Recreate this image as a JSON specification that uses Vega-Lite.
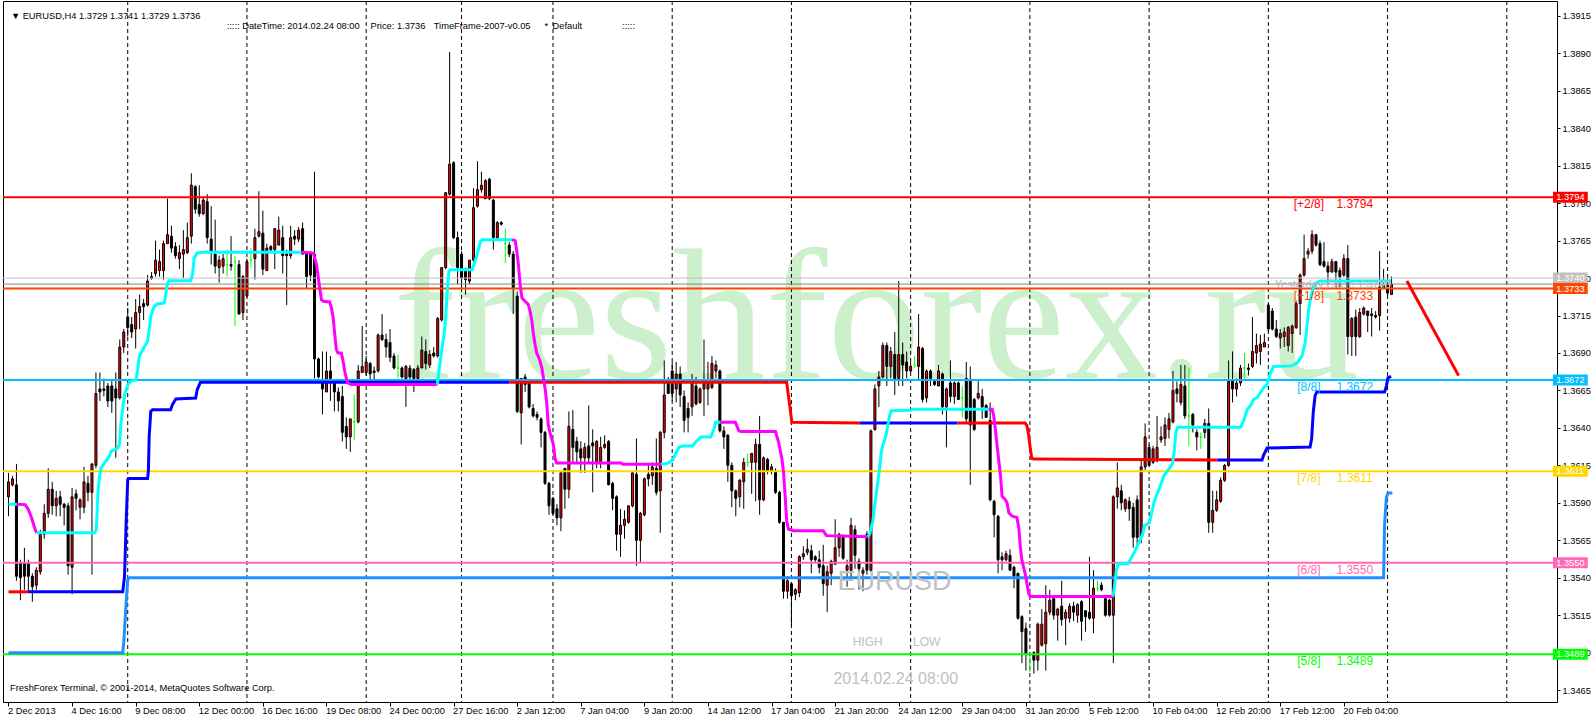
{
"$schema":"https://vega.github.io/schema/vega-lite/v6.json",
"width":1554,"height":701,
"autosize":{"type":"none"},
"padding":{"left":3,"top":1,"right":39,"bottom":18},
"background":"#FFFFFF",
"config":{"view":{"stroke":"#000000","strokeWidth":1},"text":{"font":"Liberation Sans"}},
"resolve":{"axis":{"x":"independent","y":"independent"}},
"datasets":{
"candles":[
{"i":0,"o":1.3594,"h":1.3610,"l":1.3581,"c":1.3604},{"i":1,"o":1.3602,"h":1.3608,"l":1.3601,"c":1.3606},{"i":2,"o":1.3602,"h":1.3616,"l":1.3538,"c":1.3541},{"i":3,"o":1.3550,"h":1.3552,"l":1.3525,"c":1.3540},{"i":4,"o":1.3550,"h":1.3560,"l":1.3532,"c":1.3541},{"i":5,"o":1.3550,"h":1.3552,"l":1.3530,"c":1.3541},{"i":6,"o":1.3541,"h":1.3543,"l":1.3524,"c":1.3534},{"i":7,"o":1.3535,"h":1.3547,"l":1.3532,"c":1.3545},{"i":8,"o":1.3544,"h":1.3572,"l":1.3542,"c":1.3569},{"i":9,"o":1.3569,"h":1.3589,"l":1.3566,"c":1.3583},
{"i":10,"o":1.3583,"h":1.3613,"l":1.3580,"c":1.3599},{"i":11,"o":1.3599,"h":1.3604,"l":1.3582,"c":1.3588},{"i":12,"o":1.3588,"h":1.3598,"l":1.3581,"c":1.3593},{"i":13,"o":1.3594,"h":1.3598,"l":1.3581,"c":1.3589},{"i":14,"o":1.3589,"h":1.3590,"l":1.3575,"c":1.3587},{"i":15,"o":1.3588,"h":1.3590,"l":1.3542,"c":1.3548},{"i":16,"o":1.3547,"h":1.3600,"l":1.3529,"c":1.3594},{"i":17,"o":1.3596,"h":1.3599,"l":1.3585,"c":1.3593},{"i":18,"o":1.3587,"h":1.3593,"l":1.3579,"c":1.3592},{"i":19,"o":1.3587,"h":1.3614,"l":1.3583,"c":1.3604},
{"i":20,"o":1.3603,"h":1.3608,"l":1.3591,"c":1.3597},{"i":21,"o":1.3597,"h":1.3616,"l":1.3542,"c":1.3616},{"i":22,"o":1.3615,"h":1.3677,"l":1.3613,"c":1.3663},{"i":23,"o":1.3666,"h":1.3677,"l":1.3658,"c":1.3664},{"i":24,"o":1.3666,"h":1.3673,"l":1.3661,"c":1.3665},{"i":25,"o":1.3668,"h":1.3670,"l":1.3654,"c":1.3658},{"i":26,"o":1.3668,"h":1.3672,"l":1.3650,"c":1.3658},{"i":27,"o":1.3666,"h":1.3677,"l":1.3620,"c":1.3660},{"i":28,"o":1.3660,"h":1.3699,"l":1.3659,"c":1.3694},{"i":29,"o":1.3694,"h":1.3706,"l":1.3690,"c":1.3704},
{"i":30,"o":1.3714,"h":1.3720,"l":1.3701,"c":1.3707},{"i":31,"o":1.3709,"h":1.3714,"l":1.3700,"c":1.3704},{"i":32,"o":1.3706,"h":1.3726,"l":1.3693,"c":1.3717},{"i":33,"o":1.3717,"h":1.3729,"l":1.3706,"c":1.3721},{"i":34,"o":1.3723,"h":1.3726,"l":1.3712,"c":1.3721},{"i":35,"o":1.3722,"h":1.3742,"l":1.3721,"c":1.3738},{"i":36,"o":1.3740,"h":1.3744,"l":1.3739,"c":1.3741},{"i":37,"o":1.3743,"h":1.3765,"l":1.3741,"c":1.3752},{"i":38,"o":1.3745,"h":1.3759,"l":1.3741,"c":1.3751},{"i":39,"o":1.3745,"h":1.3765,"l":1.3739,"c":1.3763},
{"i":40,"o":1.3763,"h":1.3793,"l":1.3763,"c":1.3769},{"i":41,"o":1.3768,"h":1.3775,"l":1.3757,"c":1.3760},{"i":42,"o":1.3761,"h":1.3764,"l":1.3753,"c":1.3755},{"i":43,"o":1.3753,"h":1.3762,"l":1.3746,"c":1.3757},{"i":44,"o":1.3756,"h":1.3772,"l":1.3740,"c":1.3759},{"i":45,"o":1.3757,"h":1.3777,"l":1.3756,"c":1.3767},{"i":46,"o":1.3768,"h":1.3810,"l":1.3763,"c":1.3802},{"i":47,"o":1.3801,"h":1.3802,"l":1.3783,"c":1.3786},{"i":48,"o":1.3789,"h":1.3802,"l":1.3781,"c":1.3783},{"i":49,"o":1.3783,"h":1.3794,"l":1.3782,"c":1.3792},
{"i":50,"o":1.3791,"h":1.3796,"l":1.3763,"c":1.3767},{"i":51,"o":1.3766,"h":1.3788,"l":1.3749,"c":1.3758},{"i":52,"o":1.3756,"h":1.3779,"l":1.3743,"c":1.3748},{"i":53,"o":1.3747,"h":1.3755,"l":1.3737,"c":1.3752},{"i":54,"o":1.3748,"h":1.3756,"l":1.3743,"c":1.3753},{"i":55,"o":1.3749,"h":1.3759,"l":1.3741,"c":1.3749},{"i":56,"o":1.3749,"h":1.3768,"l":1.3745,"c":1.3748},{"i":57,"o":1.3751,"h":1.3755,"l":1.3708,"c":1.3751},{"i":58,"o":1.3749,"h":1.3752,"l":1.3716,"c":1.3716},{"i":59,"o":1.3717,"h":1.3742,"l":1.3712,"c":1.3741},
{"i":60,"o":1.3728,"h":1.3753,"l":1.3727,"c":1.3751},{"i":61,"o":1.3752,"h":1.3760,"l":1.3747,"c":1.3752},{"i":62,"o":1.3753,"h":1.3773,"l":1.3739,"c":1.3767},{"i":63,"o":1.3768,"h":1.3798,"l":1.3767,"c":1.3771},{"i":64,"o":1.3770,"h":1.3785,"l":1.3742,"c":1.3746},{"i":65,"o":1.3745,"h":1.3763,"l":1.3745,"c":1.3760},{"i":66,"o":1.3761,"h":1.3762,"l":1.3757,"c":1.3759},{"i":67,"o":1.3759,"h":1.3773,"l":1.3746,"c":1.3773},{"i":68,"o":1.3762,"h":1.3781,"l":1.3762,"c":1.3772},{"i":69,"o":1.3767,"h":1.3775,"l":1.3743,"c":1.3755},
{"i":70,"o":1.3756,"h":1.3759,"l":1.3722,"c":1.3755},{"i":71,"o":1.3755,"h":1.3775,"l":1.3753,"c":1.3767},{"i":72,"o":1.3768,"h":1.3772,"l":1.3762,"c":1.3766},{"i":73,"o":1.3766,"h":1.3774,"l":1.3764,"c":1.3772},{"i":74,"o":1.3773,"h":1.3777,"l":1.3756,"c":1.3756},{"i":75,"o":1.3756,"h":1.3758,"l":1.3733,"c":1.3741},{"i":76,"o":1.3757,"h":1.3758,"l":1.3738,"c":1.3742},{"i":77,"o":1.3756,"h":1.3811,"l":1.3673,"c":1.3686},{"i":78,"o":1.3686,"h":1.3687,"l":1.3673,"c":1.3674},{"i":79,"o":1.3672,"h":1.3691,"l":1.3649,"c":1.3666},
{"i":80,"o":1.3664,"h":1.3691,"l":1.3664,"c":1.3678},{"i":81,"o":1.3678,"h":1.3688,"l":1.3658,"c":1.3673},{"i":82,"o":1.3670,"h":1.3671,"l":1.3651,"c":1.3664},{"i":83,"o":1.3664,"h":1.3667,"l":1.3651,"c":1.3658},{"i":84,"o":1.3661,"h":1.3668,"l":1.3631,"c":1.3637},{"i":85,"o":1.3641,"h":1.3647,"l":1.3626,"c":1.3634},{"i":86,"o":1.3634,"h":1.3646,"l":1.3624,"c":1.3646},{"i":87,"o":1.3644,"h":1.3662,"l":1.3632,"c":1.3644},{"i":88,"o":1.3644,"h":1.3682,"l":1.3643,"c":1.3678},{"i":89,"o":1.3677,"h":1.3708,"l":1.3677,"c":1.3681},
{"i":90,"o":1.3677,"h":1.3688,"l":1.3675,"c":1.3684},{"i":91,"o":1.3683,"h":1.3684,"l":1.3671,"c":1.3676},{"i":92,"o":1.3678,"h":1.3681,"l":1.3672,"c":1.3677},{"i":93,"o":1.3678,"h":1.3703,"l":1.3677,"c":1.3702},{"i":94,"o":1.3702,"h":1.3716,"l":1.3698,"c":1.3699},{"i":95,"o":1.3699,"h":1.3703,"l":1.3687,"c":1.3694},{"i":96,"o":1.3697,"h":1.3706,"l":1.3684,"c":1.3687},{"i":97,"o":1.3688,"h":1.3690,"l":1.3679,"c":1.3680},{"i":98,"o":1.3680,"h":1.3689,"l":1.3673,"c":1.3680},{"i":99,"o":1.3680,"h":1.3681,"l":1.3673,"c":1.3674},
{"i":100,"o":1.3673,"h":1.3682,"l":1.3654,"c":1.3681},{"i":101,"o":1.3680,"h":1.3682,"l":1.3672,"c":1.3674},{"i":102,"o":1.3679,"h":1.3680,"l":1.3664,"c":1.3673},{"i":103,"o":1.3673,"h":1.3682,"l":1.3672,"c":1.3680},{"i":104,"o":1.3680,"h":1.3701,"l":1.3680,"c":1.3692},{"i":105,"o":1.3691,"h":1.3699,"l":1.3679,"c":1.3683},{"i":106,"o":1.3682,"h":1.3692,"l":1.3680,"c":1.3689},{"i":107,"o":1.3690,"h":1.3694,"l":1.3687,"c":1.3688},{"i":108,"o":1.3688,"h":1.3714,"l":1.3687,"c":1.3713},{"i":109,"o":1.3712,"h":1.3747,"l":1.3711,"c":1.3747},
{"i":110,"o":1.3747,"h":1.3797,"l":1.3746,"c":1.3797},{"i":111,"o":1.3796,"h":1.3891,"l":1.3795,"c":1.3816},{"i":112,"o":1.3817,"h":1.3818,"l":1.3766,"c":1.3767},{"i":113,"o":1.3767,"h":1.3771,"l":1.3736,"c":1.3747},{"i":114,"o":1.3756,"h":1.3758,"l":1.3733,"c":1.3740},{"i":115,"o":1.3746,"h":1.3747,"l":1.3729,"c":1.3739},{"i":116,"o":1.3738,"h":1.3752,"l":1.3736,"c":1.3752},{"i":117,"o":1.3752,"h":1.3800,"l":1.3751,"c":1.3787},{"i":118,"o":1.3788,"h":1.3818,"l":1.3787,"c":1.3799},{"i":119,"o":1.3799,"h":1.3811,"l":1.3797,"c":1.3802},
{"i":120,"o":1.3793,"h":1.3806,"l":1.3793,"c":1.3805},{"i":121,"o":1.3806,"h":1.3807,"l":1.3792,"c":1.3793},{"i":122,"o":1.3792,"h":1.3793,"l":1.3759,"c":1.3767},{"i":123,"o":1.3767,"h":1.3778,"l":1.3765,"c":1.3777},{"i":124,"o":1.3777,"h":1.3778,"l":1.3775,"c":1.3776},{"i":125,"o":1.3763,"h":1.3773,"l":1.3750,"c":1.3763},{"i":126,"o":1.3762,"h":1.3764,"l":1.3754,"c":1.3756},{"i":127,"o":1.3756,"h":1.3758,"l":1.3716,"c":1.3733},{"i":128,"o":1.3728,"h":1.3731,"l":1.3650,"c":1.3651},{"i":129,"o":1.3650,"h":1.3673,"l":1.3629,"c":1.3673},
{"i":130,"o":1.3674,"h":1.3676,"l":1.3664,"c":1.3669},{"i":131,"o":1.3671,"h":1.3672,"l":1.3653,"c":1.3654},{"i":132,"o":1.3653,"h":1.3656,"l":1.3647,"c":1.3648},{"i":133,"o":1.3649,"h":1.3651,"l":1.3645,"c":1.3647},{"i":134,"o":1.3646,"h":1.3647,"l":1.3627,"c":1.3637},{"i":135,"o":1.3637,"h":1.3638,"l":1.3602,"c":1.3603},{"i":136,"o":1.3603,"h":1.3604,"l":1.3582,"c":1.3588},{"i":137,"o":1.3593,"h":1.3594,"l":1.3582,"c":1.3583},{"i":138,"o":1.3586,"h":1.3589,"l":1.3575,"c":1.3580},{"i":139,"o":1.3580,"h":1.3611,"l":1.3571,"c":1.3610},
{"i":140,"o":1.3613,"h":1.3613,"l":1.3586,"c":1.3599},{"i":141,"o":1.3599,"h":1.3651,"l":1.3593,"c":1.3641},{"i":142,"o":1.3639,"h":1.3652,"l":1.3617,"c":1.3627},{"i":143,"o":1.3631,"h":1.3634,"l":1.3617,"c":1.3624},{"i":144,"o":1.3626,"h":1.3631,"l":1.3610,"c":1.3620},{"i":145,"o":1.3620,"h":1.3630,"l":1.3610,"c":1.3627},{"i":146,"o":1.3628,"h":1.3655,"l":1.3617,"c":1.3620},{"i":147,"o":1.3630,"h":1.3639,"l":1.3597,"c":1.3628},{"i":148,"o":1.3617,"h":1.3632,"l":1.3613,"c":1.3631},{"i":149,"o":1.3617,"h":1.3634,"l":1.3613,"c":1.3627},
{"i":150,"o":1.3627,"h":1.3635,"l":1.3626,"c":1.3629},{"i":151,"o":1.3631,"h":1.3632,"l":1.3602,"c":1.3602},{"i":152,"o":1.3603,"h":1.3604,"l":1.3585,"c":1.3593},{"i":153,"o":1.3594,"h":1.3595,"l":1.3558,"c":1.3569},{"i":154,"o":1.3569,"h":1.3586,"l":1.3554,"c":1.3575},{"i":155,"o":1.3575,"h":1.3585,"l":1.3566,"c":1.3579},{"i":156,"o":1.3577,"h":1.3588,"l":1.3576,"c":1.3588},{"i":157,"o":1.3588,"h":1.3611,"l":1.3587,"c":1.3610},{"i":158,"o":1.3609,"h":1.3633,"l":1.3548,"c":1.3565},{"i":159,"o":1.3565,"h":1.3584,"l":1.3550,"c":1.3583},
{"i":160,"o":1.3582,"h":1.3607,"l":1.3581,"c":1.3606},{"i":161,"o":1.3609,"h":1.3616,"l":1.3601,"c":1.3606},{"i":162,"o":1.3608,"h":1.3617,"l":1.3602,"c":1.3614},{"i":163,"o":1.3613,"h":1.3633,"l":1.3595,"c":1.3597},{"i":164,"o":1.3598,"h":1.3638,"l":1.3570,"c":1.3637},{"i":165,"o":1.3637,"h":1.3685,"l":1.3633,"c":1.3662},{"i":166,"o":1.3670,"h":1.3674,"l":1.3663,"c":1.3663},{"i":167,"o":1.3678,"h":1.3684,"l":1.3658,"c":1.3663},{"i":168,"o":1.3666,"h":1.3684,"l":1.3657,"c":1.3676},{"i":169,"o":1.3676,"h":1.3681,"l":1.3654,"c":1.3662},
{"i":170,"o":1.3661,"h":1.3665,"l":1.3637,"c":1.3645},{"i":171,"o":1.3653,"h":1.3657,"l":1.3637,"c":1.3647},{"i":172,"o":1.3654,"h":1.3676,"l":1.3648,"c":1.3671},{"i":173,"o":1.3668,"h":1.3674,"l":1.3655,"c":1.3656},{"i":174,"o":1.3657,"h":1.3667,"l":1.3656,"c":1.3666},{"i":175,"o":1.3666,"h":1.3699,"l":1.3648,"c":1.3672},{"i":176,"o":1.3666,"h":1.3684,"l":1.3655,"c":1.3671},{"i":177,"o":1.3667,"h":1.3688,"l":1.3666,"c":1.3683},{"i":178,"o":1.3678,"h":1.3685,"l":1.3673,"c":1.3682},{"i":179,"o":1.3678,"h":1.3679,"l":1.3637,"c":1.3638},
{"i":180,"o":1.3638,"h":1.3641,"l":1.3626,"c":1.3634},{"i":181,"o":1.3635,"h":1.3636,"l":1.3604,"c":1.3615},{"i":182,"o":1.3615,"h":1.3617,"l":1.3587,"c":1.3598},{"i":183,"o":1.3598,"h":1.3599,"l":1.3581,"c":1.3593},{"i":184,"o":1.3594,"h":1.3606,"l":1.3587,"c":1.3605},{"i":185,"o":1.3604,"h":1.3620,"l":1.3586,"c":1.3617},{"i":186,"o":1.3617,"h":1.3623,"l":1.3614,"c":1.3617},{"i":187,"o":1.3617,"h":1.3623,"l":1.3596,"c":1.3623},{"i":188,"o":1.3617,"h":1.3633,"l":1.3591,"c":1.3629},{"i":189,"o":1.3629,"h":1.3648,"l":1.3582,"c":1.3592},
{"i":190,"o":1.3592,"h":1.3621,"l":1.3591,"c":1.3620},{"i":191,"o":1.3619,"h":1.3620,"l":1.3609,"c":1.3611},{"i":192,"o":1.3611,"h":1.3616,"l":1.3609,"c":1.3614},{"i":193,"o":1.3611,"h":1.3613,"l":1.3596,"c":1.3597},{"i":194,"o":1.3597,"h":1.3598,"l":1.3576,"c":1.3577},{"i":195,"o":1.3577,"h":1.3577,"l":1.3526,"c":1.3531},{"i":196,"o":1.3531,"h":1.3541,"l":1.3526,"c":1.3538},{"i":197,"o":1.3536,"h":1.3537,"l":1.3508,"c":1.3528},{"i":198,"o":1.3529,"h":1.3533,"l":1.3525,"c":1.3532},{"i":199,"o":1.3530,"h":1.3555,"l":1.3527,"c":1.3554},
{"i":200,"o":1.3554,"h":1.3561,"l":1.3552,"c":1.3556},{"i":201,"o":1.3557,"h":1.3566,"l":1.3555,"c":1.3559},{"i":202,"o":1.3558,"h":1.3562,"l":1.3543,"c":1.3552},{"i":203,"o":1.3554,"h":1.3555,"l":1.3550,"c":1.3552},{"i":204,"o":1.3552,"h":1.3558,"l":1.3543,"c":1.3547},{"i":205,"o":1.3548,"h":1.3562,"l":1.3528,"c":1.3536},{"i":206,"o":1.3535,"h":1.3548,"l":1.3517,"c":1.3544},{"i":207,"o":1.3543,"h":1.3552,"l":1.3535,"c":1.3551},{"i":208,"o":1.3549,"h":1.3579,"l":1.3549,"c":1.3560},{"i":209,"o":1.3560,"h":1.3570,"l":1.3554,"c":1.3569},
{"i":210,"o":1.3567,"h":1.3569,"l":1.3552,"c":1.3553},{"i":211,"o":1.3545,"h":1.3552,"l":1.3534,"c":1.3548},{"i":212,"o":1.3545,"h":1.3580,"l":1.3538,"c":1.3575},{"i":213,"o":1.3572,"h":1.3575,"l":1.3546,"c":1.3555},{"i":214,"o":1.3551,"h":1.3553,"l":1.3532,"c":1.3546},{"i":215,"o":1.3543,"h":1.3547,"l":1.3531,"c":1.3545},{"i":216,"o":1.3569,"h":1.3571,"l":1.3542,"c":1.3545},{"i":217,"o":1.3545,"h":1.3639,"l":1.3544,"c":1.3638},{"i":218,"o":1.3639,"h":1.3669,"l":1.3638,"c":1.3666},{"i":219,"o":1.3668,"h":1.3678,"l":1.3654,"c":1.3674},
{"i":220,"o":1.3674,"h":1.3697,"l":1.3673,"c":1.3695},{"i":221,"o":1.3695,"h":1.3697,"l":1.3668,"c":1.3681},{"i":222,"o":1.3681,"h":1.3694,"l":1.3673,"c":1.3691},{"i":223,"o":1.3689,"h":1.3704,"l":1.3662,"c":1.3672},{"i":224,"o":1.3673,"h":1.3738,"l":1.3668,"c":1.3689},{"i":225,"o":1.3689,"h":1.3697,"l":1.3668,"c":1.3682},{"i":226,"o":1.3684,"h":1.3691,"l":1.3673,"c":1.3678},{"i":227,"o":1.3678,"h":1.3684,"l":1.3677,"c":1.3681},{"i":228,"o":1.3682,"h":1.3688,"l":1.3680,"c":1.3682},{"i":229,"o":1.3681,"h":1.3716,"l":1.3672,"c":1.3694},
{"i":230,"o":1.3693,"h":1.3694,"l":1.3657,"c":1.3659},{"i":231,"o":1.3660,"h":1.3679,"l":1.3657,"c":1.3678},{"i":232,"o":1.3678,"h":1.3679,"l":1.3668,"c":1.3673},{"i":233,"o":1.3671,"h":1.3672,"l":1.3668,"c":1.3669},{"i":234,"o":1.3668,"h":1.3682,"l":1.3668,"c":1.3678},{"i":235,"o":1.3676,"h":1.3677,"l":1.3649,"c":1.3654},{"i":236,"o":1.3654,"h":1.3667,"l":1.3627,"c":1.3666},{"i":237,"o":1.3670,"h":1.3685,"l":1.3657,"c":1.3661},{"i":238,"o":1.3661,"h":1.3671,"l":1.3656,"c":1.3670},{"i":239,"o":1.3670,"h":1.3671,"l":1.3659,"c":1.3659},
{"i":240,"o":1.3660,"h":1.3668,"l":1.3647,"c":1.3660},{"i":241,"o":1.3673,"h":1.3684,"l":1.3644,"c":1.3646},{"i":242,"o":1.3672,"h":1.3681,"l":1.3602,"c":1.3642},{"i":243,"o":1.3659,"h":1.3660,"l":1.3638,"c":1.3639},{"i":244,"o":1.3660,"h":1.3672,"l":1.3659,"c":1.3663},{"i":245,"o":1.3661,"h":1.3666,"l":1.3646,"c":1.3654},{"i":246,"o":1.3655,"h":1.3656,"l":1.3647,"c":1.3647},{"i":247,"o":1.3645,"h":1.3657,"l":1.3591,"c":1.3592},{"i":248,"o":1.3591,"h":1.3592,"l":1.3567,"c":1.3582},{"i":249,"o":1.3581,"h":1.3582,"l":1.3543,"c":1.3552},
{"i":250,"o":1.3554,"h":1.3557,"l":1.3545,"c":1.3552},{"i":251,"o":1.3552,"h":1.3558,"l":1.3551,"c":1.3556},{"i":252,"o":1.3555,"h":1.3559,"l":1.3545,"c":1.3545},{"i":253,"o":1.3547,"h":1.3548,"l":1.3533,"c":1.3541},{"i":254,"o":1.3543,"h":1.3543,"l":1.3512,"c":1.3513},{"i":255,"o":1.3514,"h":1.3515,"l":1.3483,"c":1.3504},{"i":256,"o":1.3506,"h":1.3510,"l":1.3478,"c":1.3489},{"i":257,"o":1.3485,"h":1.3488,"l":1.3477,"c":1.3485},{"i":258,"o":1.3490,"h":1.3491,"l":1.3476,"c":1.3485},{"i":259,"o":1.3485,"h":1.3510,"l":1.3478,"c":1.3509},
{"i":260,"o":1.3495,"h":1.3519,"l":1.3494,"c":1.3509},{"i":261,"o":1.3496,"h":1.3535,"l":1.3478,"c":1.3517},{"i":262,"o":1.3517,"h":1.3532,"l":1.3515,"c":1.3525},{"i":263,"o":1.3526,"h":1.3528,"l":1.3512,"c":1.3515},{"i":264,"o":1.3515,"h":1.3520,"l":1.3498,"c":1.3519},{"i":265,"o":1.3521,"h":1.3538,"l":1.3508,"c":1.3512},{"i":266,"o":1.3513,"h":1.3519,"l":1.3495,"c":1.3517},{"i":267,"o":1.3513,"h":1.3523,"l":1.3510,"c":1.3521},{"i":268,"o":1.3521,"h":1.3524,"l":1.3511,"c":1.3517},{"i":269,"o":1.3515,"h":1.3523,"l":1.3510,"c":1.3522},
{"i":270,"o":1.3524,"h":1.3525,"l":1.3498,"c":1.3511},{"i":271,"o":1.3518,"h":1.3518,"l":1.3504,"c":1.3514},{"i":272,"o":1.3517,"h":1.3554,"l":1.3512,"c":1.3513},{"i":273,"o":1.3513,"h":1.3545,"l":1.3503,"c":1.3533},{"i":274,"o":1.3533,"h":1.3538,"l":1.3531,"c":1.3533},{"i":275,"o":1.3535,"h":1.3537,"l":1.3531,"c":1.3532},{"i":276,"o":1.3526,"h":1.3527,"l":1.3514,"c":1.3515},{"i":277,"o":1.3525,"h":1.3526,"l":1.3514,"c":1.3515},{"i":278,"o":1.3515,"h":1.3595,"l":1.3483,"c":1.3594},{"i":279,"o":1.3594,"h":1.3617,"l":1.3586,"c":1.3600},
{"i":280,"o":1.3598,"h":1.3602,"l":1.3585,"c":1.3590},{"i":281,"o":1.3586,"h":1.3593,"l":1.3584,"c":1.3592},{"i":282,"o":1.3591,"h":1.3594,"l":1.3578,"c":1.3586},{"i":283,"o":1.3587,"h":1.3590,"l":1.3560,"c":1.3567},{"i":284,"o":1.3592,"h":1.3595,"l":1.3560,"c":1.3567},{"i":285,"o":1.3567,"h":1.3618,"l":1.3563,"c":1.3614},{"i":286,"o":1.3614,"h":1.3643,"l":1.3612,"c":1.3634},{"i":287,"o":1.3627,"h":1.3629,"l":1.3615,"c":1.3615},{"i":288,"o":1.3617,"h":1.3628,"l":1.3616,"c":1.3626},{"i":289,"o":1.3618,"h":1.3648,"l":1.3617,"c":1.3627},
{"i":290,"o":1.3632,"h":1.3641,"l":1.3630,"c":1.3634},{"i":291,"o":1.3633,"h":1.3647,"l":1.3628,"c":1.3642},{"i":292,"o":1.3639,"h":1.3650,"l":1.3633,"c":1.3646},{"i":293,"o":1.3644,"h":1.3678,"l":1.3643,"c":1.3665},{"i":294,"o":1.3666,"h":1.3671,"l":1.3657,"c":1.3663},{"i":295,"o":1.3657,"h":1.3682,"l":1.3655,"c":1.3669},{"i":296,"o":1.3668,"h":1.3682,"l":1.3646,"c":1.3648},{"i":297,"o":1.3648,"h":1.3680,"l":1.3628,"c":1.3648},{"i":298,"o":1.3649,"h":1.3650,"l":1.3637,"c":1.3642},{"i":299,"o":1.3637,"h":1.3639,"l":1.3625,"c":1.3634},
{"i":300,"o":1.3634,"h":1.3637,"l":1.3626,"c":1.3634},{"i":301,"o":1.3637,"h":1.3646,"l":1.3633,"c":1.3643},{"i":302,"o":1.3643,"h":1.3653,"l":1.3570,"c":1.3577},{"i":303,"o":1.3577,"h":1.3598,"l":1.3570,"c":1.3585},{"i":304,"o":1.3585,"h":1.3598,"l":1.3584,"c":1.3592},{"i":305,"o":1.3591,"h":1.3607,"l":1.3590,"c":1.3605},{"i":306,"o":1.3605,"h":1.3616,"l":1.3604,"c":1.3615},{"i":307,"o":1.3615,"h":1.3685,"l":1.3614,"c":1.3671},{"i":308,"o":1.3672,"h":1.3691,"l":1.3657,"c":1.3666},{"i":309,"o":1.3666,"h":1.3673,"l":1.3661,"c":1.3670},
{"i":310,"o":1.3670,"h":1.3682,"l":1.3668,"c":1.3680},{"i":311,"o":1.3680,"h":1.3690,"l":1.3673,"c":1.3680},{"i":312,"o":1.3679,"h":1.3683,"l":1.3675,"c":1.3680},{"i":313,"o":1.3681,"h":1.3714,"l":1.3680,"c":1.3691},{"i":314,"o":1.3690,"h":1.3703,"l":1.3683,"c":1.3695},{"i":315,"o":1.3691,"h":1.3702,"l":1.3682,"c":1.3696},{"i":316,"o":1.3694,"h":1.3703,"l":1.3694,"c":1.3697},{"i":317,"o":1.3722,"h":1.3723,"l":1.3704,"c":1.3706},{"i":318,"o":1.3718,"h":1.3720,"l":1.3705,"c":1.3706},{"i":319,"o":1.3706,"h":1.3712,"l":1.3700,"c":1.3701},
{"i":320,"o":1.3700,"h":1.3706,"l":1.3693,"c":1.3703},{"i":321,"o":1.3701,"h":1.3707,"l":1.3694,"c":1.3704},{"i":322,"o":1.3695,"h":1.3708,"l":1.3691,"c":1.3707},{"i":323,"o":1.3703,"h":1.3709,"l":1.3690,"c":1.3708},{"i":324,"o":1.3707,"h":1.3725,"l":1.3706,"c":1.3723},{"i":325,"o":1.3723,"h":1.3743,"l":1.3702,"c":1.3742},{"i":326,"o":1.3742,"h":1.3769,"l":1.3741,"c":1.3753},{"i":327,"o":1.3756,"h":1.3760,"l":1.3753,"c":1.3758},{"i":328,"o":1.3758,"h":1.3772,"l":1.3756,"c":1.3769},{"i":329,"o":1.3769,"h":1.3769,"l":1.3761,"c":1.3762},
{"i":330,"o":1.3763,"h":1.3765,"l":1.3748,"c":1.3749},{"i":331,"o":1.3751,"h":1.3764,"l":1.3747,"c":1.3748},{"i":332,"o":1.3748,"h":1.3751,"l":1.3736,"c":1.3744},{"i":333,"o":1.3744,"h":1.3753,"l":1.3744,"c":1.3751},{"i":334,"o":1.3751,"h":1.3751,"l":1.3733,"c":1.3744},{"i":335,"o":1.3745,"h":1.3747,"l":1.3734,"c":1.3741},{"i":336,"o":1.3742,"h":1.3756,"l":1.3741,"c":1.3753},{"i":337,"o":1.3753,"h":1.3762,"l":1.3689,"c":1.3701},{"i":338,"o":1.3701,"h":1.3714,"l":1.3688,"c":1.3713},{"i":339,"o":1.3714,"h":1.3719,"l":1.3688,"c":1.3701},
{"i":340,"o":1.3701,"h":1.3720,"l":1.3700,"c":1.3717},{"i":341,"o":1.3716,"h":1.3721,"l":1.3715,"c":1.3720},{"i":342,"o":1.3718,"h":1.3718,"l":1.3704,"c":1.3715},{"i":343,"o":1.3716,"h":1.3720,"l":1.3701,"c":1.3715},{"i":344,"o":1.3715,"h":1.3718,"l":1.3713,"c":1.3714},{"i":345,"o":1.3715,"h":1.3758,"l":1.3705,"c":1.3734},{"i":346,"o":1.3735,"h":1.3746,"l":1.3733,"c":1.3733},{"i":347,"o":1.3735,"h":1.3742,"l":1.3728,"c":1.3730},{"i":348,"o":1.3729,"h":1.3741,"l":1.3729,"c":1.3736}
],
"weeks":[{"i":30},{"i":60},{"i":90},{"i":114},{"i":137},{"i":167},{"i":197},{"i":227},{"i":257},{"i":287},{"i":317},{"i":347},{"i":377}],
"levels":[{"n":"+2/8","lab":"[+2/8]","p":1.3794},{"n":"+1/8","lab":"[+1/8]","p":1.3733},{"n":"8/8","lab":"[8/8]","p":1.3672},{"n":"7/8","lab":"[7/8]","p":1.3611},{"n":"6/8","lab":"[6/8]","p":1.355},{"n":"5/8","lab":"[5/8]","p":1.3489}],
"thin":[{"n":"yclose","p":1.374},{"n":"bid","p":1.3736}],
"boxes":[{"n":"yclose","p":1.374},{"n":"+2/8","p":1.3794},{"n":"+1/8","p":1.3733},{"n":"8/8","p":1.3672},{"n":"7/8","p":1.3611},{"n":"6/8","p":1.355},{"n":"5/8","p":1.3489}],
"base":[{"s":"b1","st":"base","i":0,"p":1.349},{"s":"b1","st":"base","i":28.75,"p":1.349},{"s":"b1","st":"base","i":29,"p":1.34965},{"s":"b1","st":"base","i":29.3,"p":1.35099},{"s":"b1","st":"base","i":29.6,"p":1.35232},{"s":"b1","st":"base","i":30,"p":1.35388},{"s":"b1","st":"base","i":30.4,"p":1.354},{"s":"b1","st":"base","i":346,"p":1.354},{"s":"b1","st":"base","i":346.25,"p":1.35757},{"s":"b1","st":"base","i":346.7,"p":1.35933},{"s":"b1","st":"base","i":347.1,"p":1.35966},{"s":"b1","st":"base","i":348.2,"p":1.35966}],
"sig":[
{"s":"q1","st":"sell","i":0,"p":1.35306},{"s":"q1","st":"sell","i":5,"p":1.35306},
{"s":"q2","st":"buy","i":5,"p":1.35306},{"s":"q2","st":"buy","i":28.75,"p":1.35306},{"s":"q2","st":"buy","i":29.2,"p":1.3541},{"s":"q2","st":"buy","i":29.6,"p":1.35766},{"s":"q2","st":"buy","i":30,"p":1.36055},{"s":"q2","st":"buy","i":30.4,"p":1.36062},{"s":"q2","st":"buy","i":35,"p":1.36062},{"s":"q2","st":"buy","i":35.2,"p":1.36111},{"s":"q2","st":"buy","i":35.4,"p":1.36344},{"s":"q2","st":"buy","i":35.8,"p":1.36511},{"s":"q2","st":"buy","i":36.25,"p":1.36522},{"s":"q2","st":"buy","i":40.8,"p":1.36522},{"s":"q2","st":"buy","i":41.25,"p":1.36556},{"s":"q2","st":"buy","i":42.1,"p":1.36593},{"s":"q2","st":"buy","i":47.1,"p":1.366},{"s":"q2","st":"buy","i":47.5,"p":1.36656},{"s":"q2","st":"buy","i":48.3,"p":1.36705},{"s":"q2","st":"buy","i":126,"p":1.36705},
{"s":"q3","st":"sell","i":126,"p":1.36705},{"s":"q3","st":"sell","i":195.8,"p":1.36705},{"s":"q3","st":"sell","i":196.25,"p":1.36613},{"s":"q3","st":"sell","i":196.7,"p":1.36525},{"s":"q3","st":"sell","i":197.1,"p":1.36437},{"s":"q3","st":"sell","i":214.2,"p":1.36433},
{"s":"q4","st":"buy","i":214.2,"p":1.36433},{"s":"q4","st":"buy","i":238.75,"p":1.36433},
{"s":"q5","st":"sell","i":238.75,"p":1.36433},{"s":"q5","st":"sell","i":255.8,"p":1.36433},{"s":"q5","st":"sell","i":256.25,"p":1.36415},{"s":"q5","st":"sell","i":256.7,"p":1.3635},{"s":"q5","st":"sell","i":257.1,"p":1.36262},{"s":"q5","st":"sell","i":257.5,"p":1.36196},{"s":"q5","st":"sell","i":258,"p":1.36192},{"s":"q5","st":"sell","i":304.2,"p":1.36185},
{"s":"q6","st":"buy","i":304.2,"p":1.36185},{"s":"q6","st":"buy","i":315.4,"p":1.36185},{"s":"q6","st":"buy","i":315.8,"p":1.36218},{"s":"q6","st":"buy","i":316.7,"p":1.36266},{"s":"q6","st":"buy","i":327.5,"p":1.36273},{"s":"q6","st":"buy","i":327.9,"p":1.36328},{"s":"q6","st":"buy","i":328.3,"p":1.36503},{"s":"q6","st":"buy","i":328.75,"p":1.36613},{"s":"q6","st":"buy","i":329.2,"p":1.36639},{"s":"q6","st":"buy","i":346.25,"p":1.36639},{"s":"q6","st":"buy","i":346.7,"p":1.36679},{"s":"q6","st":"buy","i":347.1,"p":1.36734},{"s":"q6","st":"buy","i":347.9,"p":1.36744}
],
"trend":[
{"s":"t1","st":"up","i":0,"p":1.3589},{"s":"t1","st":"up","i":2.1,"p":1.3589},
{"s":"t2","st":"dn","i":2.1,"p":1.3589},{"s":"t2","st":"dn","i":4.2,"p":1.35888},{"s":"t2","st":"dn","i":5,"p":1.35855},{"s":"t2","st":"dn","i":5.8,"p":1.358},{"s":"t2","st":"dn","i":6.7,"p":1.35722},{"s":"t2","st":"dn","i":7.1,"p":1.357},
{"s":"t3","st":"up","i":7.1,"p":1.357},{"s":"t3","st":"up","i":21.7,"p":1.357},{"s":"t3","st":"up","i":22.1,"p":1.35722},{"s":"t3","st":"up","i":22.5,"p":1.35966},{"s":"t3","st":"up","i":22.9,"p":1.36078},{"s":"t3","st":"up","i":23.3,"p":1.36133},{"s":"t3","st":"up","i":24.2,"p":1.36166},{"s":"t3","st":"up","i":25.4,"p":1.36211},{"s":"t3","st":"up","i":25.8,"p":1.36244},{"s":"t3","st":"up","i":27.5,"p":1.36266},{"s":"t3","st":"up","i":27.9,"p":1.36289},{"s":"t3","st":"up","i":28.3,"p":1.36433},{"s":"t3","st":"up","i":28.8,"p":1.36544},{"s":"t3","st":"up","i":29.2,"p":1.36622},{"s":"t3","st":"up","i":30,"p":1.36689},{"s":"t3","st":"up","i":30.8,"p":1.36711},{"s":"t3","st":"up","i":32.1,"p":1.36722},{"s":"t3","st":"up","i":32.5,"p":1.36789},{"s":"t3","st":"up","i":32.9,"p":1.36878},{"s":"t3","st":"up","i":33.8,"p":1.36923},{"s":"t3","st":"up","i":35,"p":1.36978},{"s":"t3","st":"up","i":35.4,"p":1.37056},{"s":"t3","st":"up","i":35.8,"p":1.37145},{"s":"t3","st":"up","i":36.7,"p":1.37212},{"s":"t3","st":"up","i":37.5,"p":1.37227},{"s":"t3","st":"up","i":39.2,"p":1.37234},{"s":"t3","st":"up","i":39.6,"p":1.37301},{"s":"t3","st":"up","i":40,"p":1.37367},{"s":"t3","st":"up","i":40.4,"p":1.37383},{"s":"t3","st":"up","i":45.8,"p":1.37383},{"s":"t3","st":"up","i":46.3,"p":1.37423},{"s":"t3","st":"up","i":46.7,"p":1.37534},{"s":"t3","st":"up","i":47.5,"p":1.37568},{"s":"t3","st":"up","i":48.8,"p":1.37573},{"s":"t3","st":"up","i":73.75,"p":1.37572},
{"s":"t4","st":"dn","i":73.75,"p":1.37572},{"s":"t4","st":"dn","i":76.7,"p":1.37567},{"s":"t4","st":"dn","i":77.5,"p":1.3749},{"s":"t4","st":"dn","i":78.3,"p":1.37334},{"s":"t4","st":"dn","i":78.75,"p":1.37256},{"s":"t4","st":"dn","i":79.2,"p":1.37245},{"s":"t4","st":"dn","i":80.8,"p":1.37241},{"s":"t4","st":"dn","i":81.25,"p":1.37201},{"s":"t4","st":"dn","i":81.7,"p":1.37134},{"s":"t4","st":"dn","i":82.1,"p":1.37022},{"s":"t4","st":"dn","i":82.5,"p":1.36922},{"s":"t4","st":"dn","i":82.9,"p":1.369},{"s":"t4","st":"dn","i":83.75,"p":1.369},{"s":"t4","st":"dn","i":84.2,"p":1.36845},{"s":"t4","st":"dn","i":84.6,"p":1.36778},{"s":"t4","st":"dn","i":85,"p":1.36733},{"s":"t4","st":"dn","i":85.4,"p":1.367},{"s":"t4","st":"dn","i":86.25,"p":1.36689},{"s":"t4","st":"dn","i":107.9,"p":1.36689},
{"s":"t5","st":"up","i":107.9,"p":1.36689},{"s":"t5","st":"up","i":108.3,"p":1.36778},{"s":"t5","st":"up","i":108.75,"p":1.36867},{"s":"t5","st":"up","i":109.2,"p":1.36956},{"s":"t5","st":"up","i":109.6,"p":1.37022},{"s":"t5","st":"up","i":110,"p":1.37134},{"s":"t5","st":"up","i":110.4,"p":1.37312},{"s":"t5","st":"up","i":110.8,"p":1.37445},{"s":"t5","st":"up","i":111.25,"p":1.37456},{"s":"t5","st":"up","i":116.7,"p":1.37456},{"s":"t5","st":"up","i":117.1,"p":1.3749},{"s":"t5","st":"up","i":117.9,"p":1.37556},{"s":"t5","st":"up","i":118.75,"p":1.37645},{"s":"t5","st":"up","i":119.2,"p":1.37656},{"s":"t5","st":"up","i":126.7,"p":1.37656},
{"s":"t6","st":"dn","i":126.7,"p":1.37656},{"s":"t6","st":"dn","i":127.5,"p":1.3765},{"s":"t6","st":"dn","i":127.9,"p":1.37579},{"s":"t6","st":"dn","i":128.3,"p":1.3749},{"s":"t6","st":"dn","i":128.75,"p":1.37356},{"s":"t6","st":"dn","i":129.2,"p":1.37267},{"s":"t6","st":"dn","i":130,"p":1.37245},{"s":"t6","st":"dn","i":130.8,"p":1.37223},{"s":"t6","st":"dn","i":131.25,"p":1.37178},{"s":"t6","st":"dn","i":131.7,"p":1.37112},{"s":"t6","st":"dn","i":132.1,"p":1.37022},{"s":"t6","st":"dn","i":132.5,"p":1.36956},{"s":"t6","st":"dn","i":132.9,"p":1.369},{"s":"t6","st":"dn","i":133.3,"p":1.36878},{"s":"t6","st":"dn","i":133.75,"p":1.36845},{"s":"t6","st":"dn","i":134.2,"p":1.368},{"s":"t6","st":"dn","i":134.6,"p":1.36733},{"s":"t6","st":"dn","i":135,"p":1.36667},{"s":"t6","st":"dn","i":135.4,"p":1.36578},{"s":"t6","st":"dn","i":135.8,"p":1.36422},{"s":"t6","st":"dn","i":136.25,"p":1.36367},{"s":"t6","st":"dn","i":137.1,"p":1.36289},{"s":"t6","st":"dn","i":137.5,"p":1.362},{"s":"t6","st":"dn","i":137.9,"p":1.36166},{"s":"t6","st":"dn","i":154.2,"p":1.36166},{"s":"t6","st":"dn","i":154.6,"p":1.36157},{"s":"t6","st":"dn","i":164.2,"p":1.36157},
{"s":"t7","st":"up","i":164.2,"p":1.36157},{"s":"t7","st":"up","i":165.8,"p":1.36163},{"s":"t7","st":"up","i":167.1,"p":1.36185},{"s":"t7","st":"up","i":167.9,"p":1.36229},{"s":"t7","st":"up","i":168.75,"p":1.36273},{"s":"t7","st":"up","i":169.6,"p":1.36279},{"s":"t7","st":"up","i":172.1,"p":1.36279},{"s":"t7","st":"up","i":172.9,"p":1.36306},{"s":"t7","st":"up","i":174.2,"p":1.36339},{"s":"t7","st":"up","i":176.7,"p":1.36339},{"s":"t7","st":"up","i":177.5,"p":1.36393},{"s":"t7","st":"up","i":177.9,"p":1.36437},{"s":"t7","st":"up","i":179.2,"p":1.36437},
{"s":"t8","st":"dn","i":179.2,"p":1.36437},{"s":"t8","st":"dn","i":182.9,"p":1.36437},{"s":"t8","st":"dn","i":183.75,"p":1.36382},{"s":"t8","st":"dn","i":184.2,"p":1.36376},{"s":"t8","st":"dn","i":193,"p":1.36376},{"s":"t8","st":"dn","i":193.75,"p":1.36306},{"s":"t8","st":"dn","i":194.6,"p":1.36196},{"s":"t8","st":"dn","i":195,"p":1.36108},{"s":"t8","st":"dn","i":195.4,"p":1.35955},{"s":"t8","st":"dn","i":195.8,"p":1.35779},{"s":"t8","st":"dn","i":196.25,"p":1.35725},{"s":"t8","st":"dn","i":197.5,"p":1.35714},{"s":"t8","st":"dn","i":205,"p":1.35714},{"s":"t8","st":"dn","i":205.8,"p":1.35681},{"s":"t8","st":"dn","i":216.25,"p":1.35674},
{"s":"t9","st":"up","i":216.25,"p":1.35674},{"s":"t9","st":"up","i":216.7,"p":1.35692},{"s":"t9","st":"up","i":217.5,"p":1.35779},{"s":"t9","st":"up","i":218.3,"p":1.35955},{"s":"t9","st":"up","i":219.2,"p":1.3613},{"s":"t9","st":"up","i":219.6,"p":1.3624},{"s":"t9","st":"up","i":220,"p":1.36284},{"s":"t9","st":"up","i":220.8,"p":1.3635},{"s":"t9","st":"up","i":221.7,"p":1.36481},{"s":"t9","st":"up","i":222.1,"p":1.36514},{"s":"t9","st":"up","i":227.1,"p":1.36518},{"s":"t9","st":"up","i":227.5,"p":1.36525},{"s":"t9","st":"up","i":246.7,"p":1.36525},
{"s":"t10","st":"dn","i":246.7,"p":1.36525},{"s":"t10","st":"dn","i":247.5,"p":1.36525},{"s":"t10","st":"dn","i":247.9,"p":1.36481},{"s":"t10","st":"dn","i":248.3,"p":1.36393},{"s":"t10","st":"dn","i":248.75,"p":1.36284},{"s":"t10","st":"dn","i":249.2,"p":1.36174},{"s":"t10","st":"dn","i":249.6,"p":1.36086},{"s":"t10","st":"dn","i":250,"p":1.35944},{"s":"t10","st":"dn","i":250.8,"p":1.35922},{"s":"t10","st":"dn","i":251.25,"p":1.359},{"s":"t10","st":"dn","i":251.7,"p":1.35834},{"s":"t10","st":"dn","i":252.5,"p":1.35812},{"s":"t10","st":"dn","i":253.75,"p":1.35801},{"s":"t10","st":"dn","i":254.2,"p":1.35736},{"s":"t10","st":"dn","i":254.6,"p":1.35604},{"s":"t10","st":"dn","i":255,"p":1.35516},{"s":"t10","st":"dn","i":255.4,"p":1.35472},{"s":"t10","st":"dn","i":255.8,"p":1.35428},{"s":"t10","st":"dn","i":256.25,"p":1.35363},{"s":"t10","st":"dn","i":256.7,"p":1.35297},{"s":"t10","st":"dn","i":257.1,"p":1.35275},{"s":"t10","st":"dn","i":277.9,"p":1.35275},
{"s":"t11","st":"up","i":277.9,"p":1.35275},{"s":"t11","st":"up","i":278.3,"p":1.35341},{"s":"t11","st":"up","i":278.75,"p":1.3545},{"s":"t11","st":"up","i":279.2,"p":1.35494},{"s":"t11","st":"up","i":281.7,"p":1.35494},{"s":"t11","st":"up","i":283.5,"p":1.3558},{"s":"t11","st":"up","i":285.4,"p":1.35692},{"s":"t11","st":"up","i":285.8,"p":1.35746},{"s":"t11","st":"up","i":287.1,"p":1.35768},{"s":"t11","st":"up","i":288.3,"p":1.35911},{"s":"t11","st":"up","i":289.6,"p":1.35999},{"s":"t11","st":"up","i":290.8,"p":1.36086},{"s":"t11","st":"up","i":292.1,"p":1.3613},{"s":"t11","st":"up","i":292.9,"p":1.36163},{"s":"t11","st":"up","i":293.3,"p":1.3624},{"s":"t11","st":"up","i":293.75,"p":1.36371},{"s":"t11","st":"up","i":294.2,"p":1.36404},{"s":"t11","st":"up","i":310,"p":1.36404},{"s":"t11","st":"up","i":310.8,"p":1.36448},{"s":"t11","st":"up","i":311.7,"p":1.36525},{"s":"t11","st":"up","i":312.5,"p":1.36547},{"s":"t11","st":"up","i":313.3,"p":1.36591},{"s":"t11","st":"up","i":314.2,"p":1.36602},{"s":"t11","st":"up","i":315,"p":1.36635},{"s":"t11","st":"up","i":315.8,"p":1.36668},{"s":"t11","st":"up","i":316.7,"p":1.3669},{"s":"t11","st":"up","i":317.5,"p":1.36766},{"s":"t11","st":"up","i":318.3,"p":1.3681},{"s":"t11","st":"up","i":322.9,"p":1.36814},{"s":"t11","st":"up","i":324.2,"p":1.36832},{"s":"t11","st":"up","i":325.4,"p":1.36876},{"s":"t11","st":"up","i":326.25,"p":1.36964},{"s":"t11","st":"up","i":326.7,"p":1.37073},{"s":"t11","st":"up","i":327.1,"p":1.37183},{"s":"t11","st":"up","i":327.5,"p":1.37249},{"s":"t11","st":"up","i":328.3,"p":1.37337},{"s":"t11","st":"up","i":329.2,"p":1.37369},{"s":"t11","st":"up","i":330,"p":1.3738},{"s":"t11","st":"up","i":347.9,"p":1.3738}
],
"arrow":[{"i":351.875,"p":1.3738},{"i":364.875,"p":1.36749}]
},
"layer":[
{"data":{"values":[{"t":"freshforex.ru","i":218.4,"p":1.36736}]},
 "mark":{"type":"text","font":"Liberation Serif","fontSize":186,"color":"#CCEFCC","align":"center","baseline":"alphabetic"},
 "encoding":{"x":{"field":"i","type":"quantitative","scale":{"domain":[-0.125,388.375],"nice":false,"zero":false},"axis":null},
  "y":{"field":"p","type":"quantitative","scale":{"domain":[1.34604,1.39216],"nice":false,"zero":false},"axis":null},
  "text":{"field":"t"}}},
{"data":{"name":"weeks"},
 "mark":{"type":"rule","color":"#000000","strokeWidth":1,"strokeDash":[4,3]},
 "encoding":{"x":{"field":"i","type":"quantitative","scale":{"domain":[-0.125,388.375],"nice":false,"zero":false},"axis":null}}},
{"data":{"name":"candles"},
 "mark":{"type":"rule","strokeWidth":1},
 "encoding":{
  "x":{"field":"i","type":"quantitative","scale":{"domain":[-0.125,388.375],"nice":false,"zero":false},
   "axis":{"orient":"bottom","title":null,"grid":false,"values":[0,16,32,48,64,80,96,112,128,144,160,176,192,208,224,240,256,272,288,304,320,336],
    "labelExpr":"['2 Dec 2013','4 Dec 16:00','9 Dec 08:00','12 Dec 00:00','16 Dec 16:00','19 Dec 08:00','24 Dec 00:00','27 Dec 16:00','2 Jan 12:00','7 Jan 04:00','9 Jan 20:00','14 Jan 12:00','17 Jan 04:00','21 Jan 20:00','24 Jan 12:00','29 Jan 04:00','31 Jan 20:00','5 Feb 12:00','10 Feb 04:00','12 Feb 20:00','17 Feb 12:00','20 Feb 04:00'][round(datum.value/16)]",
    "labelAlign":"left","labelBaseline":"top","labelOffset":-1,"labelFont":"Liberation Sans","labelFontSize":9.3,"labelColor":"#000000","labelPadding":0,"labelOverlap":false,"labelFlush":false,"labelBound":false,
    "tickSize":4,"tickColor":"#000000","domainColor":"#000000","domainWidth":1}},
  "y":{"field":"l","type":"quantitative","scale":{"domain":[1.34604,1.39216],"nice":false,"zero":false},
   "axis":{"orient":"right","title":null,"grid":false,"values":[1.3465,1.349,1.3515,1.354,1.3565,1.359,1.3615,1.364,1.3665,1.369,1.3715,1.374,1.3765,1.379,1.3815,1.384,1.3865,1.389,1.3915],
    "format":".4f","labelFont":"Liberation Sans","labelFontSize":9.3,"labelColor":"#000000","labelPadding":2,"labelOverlap":false,"labelFlush":false,"labelBound":false,
    "tickSize":3,"tickColor":"#000000","domainColor":"#000000","domainWidth":1}},
  "y2":{"field":"h"},
  "color":{"condition":{"test":"datum.o == datum.c","value":"#00FF00"},"value":"#000000"}}},
{"data":{"name":"candles"},
 "mark":{"type":"bar","width":2,"strokeWidth":1},
 "encoding":{
  "x":{"field":"i","type":"quantitative","scale":{"domain":[-0.125,388.375],"nice":false,"zero":false},"axis":null},
  "y":{"field":"o","type":"quantitative","scale":{"domain":[1.34604,1.39216],"nice":false,"zero":false},"axis":null},
  "y2":{"field":"c"},
  "fill":{"condition":[{"test":"datum.o == datum.c","value":"#00FF00"},{"test":"datum.c > datum.o","value":"#FF0000"}],"value":"#000000"},
  "stroke":{"condition":{"test":"datum.o == datum.c","value":"#00FF00"},"value":"#000000"}}},
{"data":{"name":"levels"},
 "mark":{"type":"rule","strokeWidth":2},
 "encoding":{
  "y":{"field":"p","type":"quantitative","scale":{"domain":[1.34604,1.39216],"nice":false,"zero":false},"axis":null},
  "color":{"field":"n","type":"nominal","legend":null,"scale":{"domain":["+2/8","+1/8","8/8","7/8","6/8","5/8","yclose","bid","up","dn","buy","sell","base"],"range":["#FF0000","#FF4500","#00BFFF","#FFD700","#FF69B4","#00FF00","#C0C0C0","#778899","#00FFFF","#FF00FF","#0000FF","#FF0000","#1E90FF"]}}}},
{"data":{"name":"thin"},
 "mark":{"type":"rule","strokeWidth":1},
 "encoding":{
  "y":{"field":"p","type":"quantitative","scale":{"domain":[1.34604,1.39216],"nice":false,"zero":false},"axis":null},
  "color":{"field":"n","type":"nominal","legend":null,"scale":{"domain":["+2/8","+1/8","8/8","7/8","6/8","5/8","yclose","bid","up","dn","buy","sell","base"],"range":["#FF0000","#FF4500","#00BFFF","#FFD700","#FF69B4","#00FF00","#C0C0C0","#778899","#00FFFF","#FF00FF","#0000FF","#FF0000","#1E90FF"]}}}},
{"data":{"name":"base"},
 "mark":{"type":"line","strokeWidth":3,"interpolate":"linear"},
 "encoding":{
  "x":{"field":"i","type":"quantitative","scale":{"domain":[-0.125,388.375],"nice":false,"zero":false},"axis":null},
  "y":{"field":"p","type":"quantitative","scale":{"domain":[1.34604,1.39216],"nice":false,"zero":false},"axis":null},
  "detail":{"field":"s"},
  "color":{"field":"st","type":"nominal","legend":null,"scale":{"domain":["+2/8","+1/8","8/8","7/8","6/8","5/8","yclose","bid","up","dn","buy","sell","base"],"range":["#FF0000","#FF4500","#00BFFF","#FFD700","#FF69B4","#00FF00","#C0C0C0","#778899","#00FFFF","#FF00FF","#0000FF","#FF0000","#1E90FF"]}}}},
{"data":{"name":"sig"},
 "mark":{"type":"line","strokeWidth":3,"interpolate":"linear"},
 "encoding":{
  "x":{"field":"i","type":"quantitative","scale":{"domain":[-0.125,388.375],"nice":false,"zero":false},"axis":null},
  "y":{"field":"p","type":"quantitative","scale":{"domain":[1.34604,1.39216],"nice":false,"zero":false},"axis":null},
  "detail":{"field":"s"},
  "color":{"field":"st","type":"nominal","legend":null,"scale":{"domain":["+2/8","+1/8","8/8","7/8","6/8","5/8","yclose","bid","up","dn","buy","sell","base"],"range":["#FF0000","#FF4500","#00BFFF","#FFD700","#FF69B4","#00FF00","#C0C0C0","#778899","#00FFFF","#FF00FF","#0000FF","#FF0000","#1E90FF"]}}}},
{"data":{"name":"trend"},
 "mark":{"type":"line","strokeWidth":3,"interpolate":"linear"},
 "encoding":{
  "x":{"field":"i","type":"quantitative","scale":{"domain":[-0.125,388.375],"nice":false,"zero":false},"axis":null},
  "y":{"field":"p","type":"quantitative","scale":{"domain":[1.34604,1.39216],"nice":false,"zero":false},"axis":null},
  "detail":{"field":"s"},
  "color":{"field":"st","type":"nominal","legend":null,"scale":{"domain":["+2/8","+1/8","8/8","7/8","6/8","5/8","yclose","bid","up","dn","buy","sell","base"],"range":["#FF0000","#FF4500","#00BFFF","#FFD700","#FF69B4","#00FF00","#C0C0C0","#778899","#00FFFF","#FF00FF","#0000FF","#FF0000","#1E90FF"]}}}},
{"data":{"name":"arrow"},
 "mark":{"type":"line","strokeWidth":3,"color":"#FF0000"},
 "encoding":{
  "x":{"field":"i","type":"quantitative","scale":{"domain":[-0.125,388.375],"nice":false,"zero":false},"axis":null},
  "y":{"field":"p","type":"quantitative","scale":{"domain":[1.34604,1.39216],"nice":false,"zero":false},"axis":null}}},
{"data":{"name":"levels"},
 "mark":{"type":"text","fontSize":12,"font":"Liberation Sans","align":"center","baseline":"top","dy":2},
 "encoding":{
  "x":{"datum":327.2,"type":"quantitative","scale":{"domain":[-0.125,388.375],"nice":false,"zero":false},"axis":null},
  "y":{"field":"p","type":"quantitative","scale":{"domain":[1.34604,1.39216],"nice":false,"zero":false},"axis":null},
  "text":{"field":"lab"},
  "color":{"field":"n","type":"nominal","legend":null,"scale":{"domain":["+2/8","+1/8","8/8","7/8","6/8","5/8","yclose","bid","up","dn","buy","sell","base"],"range":["#FF0000","#FF4500","#00BFFF","#FFD700","#FF69B4","#00FF00","#C0C0C0","#778899","#00FFFF","#FF00FF","#0000FF","#FF0000","#1E90FF"]}}}},
{"data":{"name":"levels"},
 "mark":{"type":"text","fontSize":12,"font":"Liberation Sans","align":"center","baseline":"top","dy":2},
 "encoding":{
  "x":{"datum":338.75,"type":"quantitative","scale":{"domain":[-0.125,388.375],"nice":false,"zero":false},"axis":null},
  "y":{"field":"p","type":"quantitative","scale":{"domain":[1.34604,1.39216],"nice":false,"zero":false},"axis":null},
  "text":{"field":"p","format":".4f"},
  "color":{"field":"n","type":"nominal","legend":null,"scale":{"domain":["+2/8","+1/8","8/8","7/8","6/8","5/8","yclose","bid","up","dn","buy","sell","base"],"range":["#FF0000","#FF4500","#00BFFF","#FFD700","#FF69B4","#00FF00","#C0C0C0","#778899","#00FFFF","#FF00FF","#0000FF","#FF0000","#1E90FF"]}}}},
{"data":{"values":[{"t":"Yesterday Close 1.3740","i":318.6,"p":1.374}]},
 "mark":{"type":"text","fontSize":11,"font":"Liberation Sans","align":"left","baseline":"top","dy":1,"color":"#B4B4B4"},
 "encoding":{
  "x":{"field":"i","type":"quantitative","scale":{"domain":[-0.125,388.375],"nice":false,"zero":false},"axis":null},
  "y":{"field":"p","type":"quantitative","scale":{"domain":[1.34604,1.39216],"nice":false,"zero":false},"axis":null},
  "text":{"field":"t"}}},
{"data":{"values":[{"t":"EURUSD","i":208.6,"p":1.3537}]},
 "mark":{"type":"text","fontSize":27,"font":"Liberation Sans","align":"left","baseline":"middle","color":"#C0C0C0"},
 "encoding":{
  "x":{"field":"i","type":"quantitative","scale":{"domain":[-0.125,388.375],"nice":false,"zero":false},"axis":null},
  "y":{"field":"p","type":"quantitative","scale":{"domain":[1.34604,1.39216],"nice":false,"zero":false},"axis":null},
  "text":{"field":"t"}}},
{"data":{"values":[{"t":"HIGH","i":212.4,"p":1.34972},{"t":"LOW","i":227.6,"p":1.34972}]},
 "mark":{"type":"text","fontSize":12,"font":"Liberation Sans","align":"left","baseline":"middle","color":"#C0C0C0"},
 "encoding":{
  "x":{"field":"i","type":"quantitative","scale":{"domain":[-0.125,388.375],"nice":false,"zero":false},"axis":null},
  "y":{"field":"p","type":"quantitative","scale":{"domain":[1.34604,1.39216],"nice":false,"zero":false},"axis":null},
  "text":{"field":"t"}}},
{"data":{"values":[{"t":"2014.02.24 08:00","i":223.25,"p":1.34727}]},
 "mark":{"type":"text","fontSize":16,"font":"Liberation Sans","align":"center","baseline":"middle","color":"#C0C0C0"},
 "encoding":{
  "x":{"field":"i","type":"quantitative","scale":{"domain":[-0.125,388.375],"nice":false,"zero":false},"axis":null},
  "y":{"field":"p","type":"quantitative","scale":{"domain":[1.34604,1.39216],"nice":false,"zero":false},"axis":null},
  "text":{"field":"t"}}},
{"data":{"values":[
  {"t":"\u25bc EURUSD,H4  1.3729 1.3741 1.3729 1.3736","i":0.6,"p":1.3915},
  {"t":"::::: DateTime: 2014.02.24 08:00","i":54.9,"p":1.39081},
  {"t":"Price: 1.3736","i":91.1,"p":1.39081},
  {"t":"TimeFrame-2007-v0.05","i":107.0,"p":1.39081},
  {"t":"*","i":134.9,"p":1.39081},
  {"t":"Default","i":136.9,"p":1.39081},
  {"t":":::::","i":154.4,"p":1.39081},
  {"t":"FreshForex Terminal, \u00a9 2001-2014, MetaQuotes Software Corp.","i":0.4,"p":1.34667}]},
 "mark":{"type":"text","fontSize":9.3,"font":"Liberation Sans","align":"left","baseline":"middle","color":"#000000"},
 "encoding":{
  "x":{"field":"i","type":"quantitative","scale":{"domain":[-0.125,388.375],"nice":false,"zero":false},"axis":null},
  "y":{"field":"p","type":"quantitative","scale":{"domain":[1.34604,1.39216],"nice":false,"zero":false},"axis":null},
  "text":{"field":"t"}}},
{"data":{"name":"boxes"},
 "mark":{"type":"bar","size":11,"clip":false},
 "encoding":{
  "x":{"datum":388.625,"type":"quantitative","scale":{"domain":[-0.125,388.375],"nice":false,"zero":false},"axis":null},
  "x2":{"datum":397.375},
  "y":{"field":"p","type":"quantitative","scale":{"domain":[1.34604,1.39216],"nice":false,"zero":false},"axis":null},
  "color":{"field":"n","type":"nominal","legend":null,"scale":{"domain":["+2/8","+1/8","8/8","7/8","6/8","5/8","yclose","bid","up","dn","buy","sell","base"],"range":["#FF0000","#FF4500","#00BFFF","#FFD700","#FF69B4","#00FF00","#C0C0C0","#778899","#00FFFF","#FF00FF","#0000FF","#FF0000","#1E90FF"]}}}},
{"data":{"name":"boxes"},
 "mark":{"type":"text","fontSize":9.3,"font":"Liberation Sans","align":"center","baseline":"middle","color":"#FFFFFF"},
 "encoding":{
  "x":{"datum":393.0,"type":"quantitative","scale":{"domain":[-0.125,388.375],"nice":false,"zero":false},"axis":null},
  "y":{"field":"p","type":"quantitative","scale":{"domain":[1.34604,1.39216],"nice":false,"zero":false},"axis":null},
  "text":{"field":"p","format":".4f"}}}
]
}
